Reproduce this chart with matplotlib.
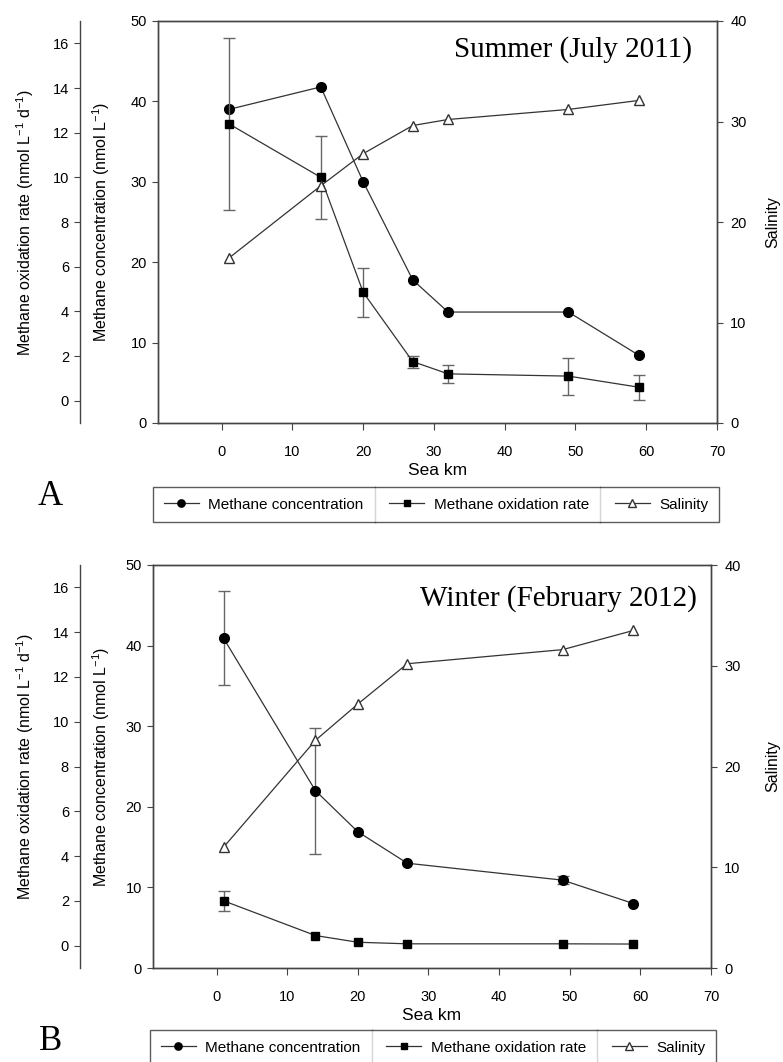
import matplotlib.pyplot as plt
from matplotlib.lines import Line2D

plt.rcParams['font.family'] = ['Liberation Sans', 'DejaVu Sans']
plt.rcParams['mathtext.default'] = 'regular'

# distance from sea (km)
sum_km = [1, 14, 20, 27, 32, 49, 59]
sum_conc = [39.0, 41.8, 30.0, 17.8, 13.8, 13.8, 8.4]
sum_conc_err = [0, 0, 0, 0, 0, 0, 0]
sum_rate = [12.4, 10.0, 4.85, 1.75, 1.2, 1.1, 0.6]
sum_rate_err = [3.85, 1.85, 1.1, 0.27, 0.4, 0.83, 0.55]
sum_sal = [16.4, 23.6, 26.8, 29.6, 30.2, 31.2, 32.1]

win_km = [1, 14, 20, 27, 49, 59]
win_conc = [40.9, 22.0, 16.9, 13.0, 10.9, 8.0]
win_conc_err = [5.85, 7.8, 0, 0, 0.5, 0]
win_rate = [2.0, 0.45, 0.15, 0.08, 0.08, 0.07]
win_rate_err = [0.45, 0, 0, 0, 0, 0]
win_sal = [12.0, 22.6, 26.2, 30.2, 31.6, 33.5]

W, H = 783, 1062
LC = '#333333'
EC = '#666666'


def errbars(ax, x, y, err):
    pts = [(a, b, e) for a, b, e in zip(x, y, err) if e > 0]
    if not pts:
        return
    xs, ys, es = zip(*pts)
    ax.errorbar(xs, ys, yerr=es, fmt='none', ecolor=EC, elinewidth=1.0,
                capsize=4, capthick=1.0, zorder=1)


def panel(px, km, conc, conc_err, rate, rate_err, sal, title, title_xy, letter, letter_xy, leg_xy):
    l, t, r, b = px
    ax = fig.add_axes([l / W, 1 - b / H, (r - l) / W, (b - t) / H])
    rax = ax.twinx()
    sax = ax.twinx()
    for a in (ax, rax, sax):
        a.set_facecolor('none')

    # concentration (circles)
    errbars(ax, km, conc, conc_err)
    h1, = ax.plot(km, conc, '-o', color=LC, lw=0.9, ms=7, mfc='black', mec='black',
                  label='Methane concentration', zorder=3)
    ax.set_xlim(-9, 70)
    ax.set_ylim(0, 50)
    ax.set_xticks(range(0, 71, 10))
    ax.set_yticks(range(0, 51, 10))
    ax.set_xlabel('Sea km', fontsize=12.5, labelpad=3)
    ax.set_ylabel('Methane concentration (nmol L$^{-1}$)', fontsize=11.5)
    ax.yaxis.set_label_coords(-(l - 112) / (r - l), 0.5)

    # oxidation rate (squares) on offset left axis
    errbars(rax, km, rate, rate_err)
    h2, = rax.plot(km, rate, '-s', color=LC, lw=0.9, ms=6.3, mfc='black', mec='black',
                   label='Methane oxidation rate', zorder=3)
    rax.set_ylim(-1, 17)
    rax.set_yticks(range(0, 17, 2))
    rax.spines['left'].set_position(('axes', -(l - 80) / (r - l)))
    rax.spines['left'].set_visible(True)
    for s in ('right', 'top', 'bottom'):
        rax.spines[s].set_visible(False)
    rax.yaxis.set_ticks_position('left')
    rax.yaxis.set_label_position('left')
    rax.set_ylabel('Methane oxidation rate (nmol L$^{-1}$ d$^{-1}$)', fontsize=11.5)
    rax.yaxis.set_label_coords(-(l - 36) / (r - l), 0.5)

    # salinity (open triangles)
    h3, = sax.plot(km, sal, '-^', color=LC, lw=0.9, ms=7, mfc='white', mec=LC,
                   label='Salinity', zorder=3)
    sax.set_ylim(0, 40)
    sax.set_yticks(range(0, 41, 10))
    sax.set_ylabel('Salinity', fontsize=11.5)
    sax.yaxis.set_label_coords((765 - l) / (r - l), 0.5)

    for a in (ax, rax, sax):
        a.tick_params(direction='out', length=4.5, width=0.8, labelsize=10.5,
                      color='#444444', pad=3.5)
        for s in a.spines.values():
            s.set_color('#444444')
            s.set_linewidth(1.0)
    ax.tick_params(axis='x', length=5, pad=11)
    sax.tick_params(axis='y', pad=5)

    ax.text(title_xy[0], title_xy[1], title, transform=ax.transAxes, ha='right', va='center',
            fontsize=21, family='Liberation Serif')
    fig.text(letter_xy[0] / W, 1 - letter_xy[1] / H, letter, ha='center', va='baseline',
             fontsize=25, family='Liberation Serif')

    leg = fig.legend([h1, h2, h3], [h.get_label() for h in (h1, h2, h3)],
                     loc='upper left', bbox_to_anchor=(leg_xy[0] / W, 1 - leg_xy[1] / H),
                     ncol=3, fontsize=11, frameon=True, fancybox=False, edgecolor='#333333',
                     borderaxespad=0, handlelength=2.3, handletextpad=0.6,
                     columnspacing=1.7, borderpad=0.7, markerscale=0.75)
    leg.get_frame().set_linewidth(1.0)
    return leg


fig = plt.figure(figsize=(W / 100, H / 100), dpi=100)

legs = []
legs.append(panel((158, 21, 717, 423), sum_km, sum_conc, sum_conc_err, sum_rate, sum_rate_err,
                  sum_sal, 'Summer (July 2011)', (0.955, 0.93), 'A', (50, 505), (153, 487)))
legs.append(panel((153, 565, 711, 968), win_km, win_conc, win_conc_err, win_rate, win_rate_err,
                  win_sal, 'Winter (February 2012)', (0.974, 0.917), 'B', (51, 1050), (150, 1030)))

# vertical dividers between legend entries
fig.canvas.draw()
rend = fig.canvas.get_renderer()
for leg in legs:
    box = leg.get_frame().get_window_extent(rend)
    texts = leg.get_texts()
    handles = leg.legend_handles
    for i in range(2):
        x0 = texts[i].get_window_extent(rend).x1
        x1 = handles[i + 1].get_window_extent(rend).x0
        xm = (x0 + x1) / 2
        fig.add_artist(Line2D([xm / W, xm / W], [box.y0 / H, box.y1 / H],
                              transform=fig.transFigure, color='#333333', lw=1.0))

fig.savefig('out.png', dpi=100)
